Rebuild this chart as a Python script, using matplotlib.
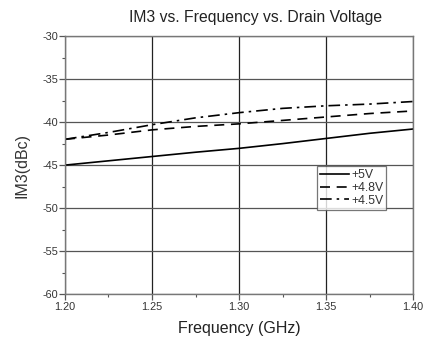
import matplotlib
matplotlib.use("Agg")
import matplotlib.pyplot as plt
import numpy as np

plt.rcParams['font.family'] = ['Liberation Sans', 'DejaVu Sans']
plt.rcParams['axes.unicode_minus'] = False

freq = [1.20, 1.225, 1.25, 1.275, 1.30, 1.325, 1.35, 1.375, 1.40]
im3_5v = [-45.0, -44.5, -44.0, -43.5, -43.05, -42.5, -41.9, -41.3, -40.8]
im3_48v = [-42.0, -41.5, -40.9, -40.5, -40.2, -39.8, -39.4, -39.0, -38.7]
im3_45v = [-42.0, -41.2, -40.3, -39.5, -38.9, -38.4, -38.1, -37.9, -37.6]
labels = ['+5V', '+4.8V', '+4.5V']

fig = plt.figure(figsize=(4.39, 3.38), dpi=100)
ax = fig.add_axes([0.148, 0.130, 0.793, 0.763])

ax.plot(freq, im3_5v, color='black', lw=1.2, linestyle='-', label=labels[0])
ax.plot(freq, im3_48v, color='black', lw=1.2, linestyle=(0, (6, 4)), label=labels[1])
ax.plot(freq, im3_45v, color='black', lw=1.2, linestyle=(0, (7, 3, 1.5, 3)), label=labels[2])

ax.set_xlim(1.20, 1.40)
ax.set_ylim(-60, -30)
ax.set_xticks([1.20, 1.25, 1.30, 1.35, 1.40])
ax.set_xticklabels(['1.20', '1.25', '1.30', '1.35', '1.40'])
ax.set_yticks([-60, -55, -50, -45, -40, -35, -30])
ax.set_xticks([1.225, 1.275, 1.325, 1.375], minor=True)
ax.set_yticks([-57.5, -52.5, -47.5, -42.5, -37.5, -32.5], minor=True)

ax.grid(True, which='major', axis='x', color='#222222', lw=0.9)
ax.grid(True, which='major', axis='y', color='#555555', lw=0.9)
for s in ax.spines.values():
    s.set_color('#777777')
    s.set_linewidth(1.0)

ax.tick_params(axis='both', which='major', direction='out', length=4, width=0.9,
               colors='#555555', labelsize=7.8, labelcolor='#333333')
ax.tick_params(axis='both', which='minor', direction='out', length=2.5, width=0.8, colors='#555555')
ax.tick_params(axis='x', pad=2)
ax.tick_params(axis='y', pad=1)

ax.set_xlabel('Frequency (GHz)', fontsize=11.5, color='#222222', labelpad=6)
ax.set_ylabel('IM3(dBc)', fontsize=11.5, color='#333333', labelpad=9)
fig.text(0.583, 0.948, 'IM3 vs. Frequency vs. Drain Voltage', ha='center', va='center',
         fontsize=11.3, color='#222222')

leg = ax.legend(loc='upper left', bbox_to_anchor=(0.725, 0.495), fontsize=8.8,
                frameon=True, fancybox=False, handlelength=2.3, handletextpad=0.2,
                borderpad=0.25, labelspacing=0.05, borderaxespad=0)
leg.get_frame().set_edgecolor('#555555')
leg.get_frame().set_linewidth(0.9)
for t in leg.get_texts():
    t.set_color('#333333')

fig.savefig('out.png', dpi=100)
